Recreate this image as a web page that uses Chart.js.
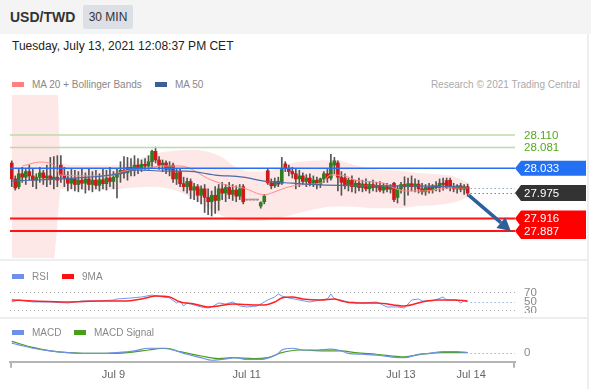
<!DOCTYPE html>
<html>
<head>
<meta charset="utf-8">
<script src="https://cdn.jsdelivr.net/npm/chart.js@4.4.0/dist/chart.umd.min.js"></script>
<style>
  body { margin: 0; width: 591px; height: 389px; background: #fff; position: relative; overflow: hidden;
         font-family: "Liberation Sans", Arial, sans-serif; }
  .abs { position: absolute; }
  #hdr { left: 0; top: 0; width: 591px; height: 34px; background: #f4f4f4; }
  #pair { left: 10px; top: 9px; font-size: 14px; font-weight: bold; color: #333; }
  #tf { left: 83px; top: 5px; width: 50px; height: 24px; line-height: 24px; text-align: center;
        font-size: 12px; color: #333; background: #dcdfe5; border-radius: 2px; }
  #date { left: 12px; top: 39px; font-size: 12px; color: #222; }
  .leg { font-size: 10px; color: #888; white-space: nowrap; z-index: 2; }
  .sw { display: inline-block; width: 12px; height: 5px; vertical-align: middle; margin-right: 8px; position: relative; top: -1px; }
  .sep { left: 0; width: 588px; height: 2px; background: #eceef0; }
  #rb { left: 587px; top: 34px; width: 2px; height: 355px; background: #eceef0; }
  canvas { position: absolute; left: 0; }
</style>
</head>
<body>
<div id="hdr" class="abs"></div>
<div id="pair" class="abs">USD/TWD</div>
<div id="tf" class="abs">30 MIN</div>
<div id="date" class="abs">Tuesday, July 13, 2021 12:08:37 PM CET</div>

<div class="abs leg" style="left:12px;top:79px"><span class="sw" style="background:#ff8080"></span>MA 20 + Bollinger Bands</div>
<div class="abs leg" style="left:155px;top:79px"><span class="sw" style="background:#3c5f9a"></span>MA 50</div>
<div class="abs leg" style="right:11px;top:79px;color:#aaa">Research © 2021 Trading Central</div>

<div class="abs sep" style="top:259px"></div>
<div class="abs sep" style="top:317px"></div>
<div id="rb" class="abs"></div>

<div class="abs leg" style="left:12px;top:271px"><span class="sw" style="background:#6f8fe8"></span>RSI</div>
<div class="abs leg" style="left:62px;top:271px"><span class="sw" style="background:#ff1010"></span>9MA</div>
<div class="abs leg" style="left:12px;top:327px"><span class="sw" style="background:#6f8fe8"></span>MACD</div>
<div class="abs leg" style="left:74px;top:327px"><span class="sw" style="background:#4a9e1a"></span>MACD Signal</div>

<canvas id="main" width="588" height="163" style="top:95px"></canvas>
<canvas id="rsi" width="588" height="51" style="top:262px"></canvas>
<canvas id="macd" width="588" height="69" style="top:320px"></canvas>

<script>
// time axis: one slot per 30 min bar, empty slots after the last bar
var xMin = -0.5, xMax = 143.5;
var tickIdx = [29, 67, 111, 131];
var tickText = ['Jul 9', 'Jul 11', 'Jul 13', 'Jul 14'];

// candles
var open = [
  28.045, 28.008, 27.990, 28.020, 28.012, 28.025, 28.015, 28.005, 28.012, 28.022,
  28.010, 28.015, 28.008, 28.012, 28.040, 28.017, 28.010, 27.998, 28.008, 27.995,
  28.005, 27.998, 28.008, 27.995, 28.005, 27.993, 28.006, 27.997, 28.010, 28.002,
  28.012, 28.020, 28.028, 28.022, 28.035, 28.028, 28.040, 28.033, 28.042, 28.038,
  28.048, 28.072, 28.052, 28.040, 28.045, 28.030, 28.040, 28.008, 28.025, 27.997,
  27.990, 28.002, 27.982, 27.990, 27.970, 27.985, 27.965, 27.955, 27.970, 27.958,
  27.985, 27.975, 27.988, 27.972, 27.982, 27.968, 27.990, 27.959, 27.959, 27.959,
  27.959, 27.945, 27.955, 28.027, 27.999, 27.992, 28.002, 27.998, 28.043, 28.033,
  28.025, 28.020, 28.008, 28.015, 28.002, 28.010, 27.998, 28.005, 27.995, 28.008,
  28.020, 28.010, 28.040, 28.045, 28.012, 28.010, 27.995, 28.005, 27.990, 27.998,
  27.988, 27.996, 27.985, 27.995, 27.988, 27.992, 27.982, 27.990, 27.984, 27.998,
  27.965, 27.985, 27.995, 27.990, 27.997, 27.990, 27.996, 27.985, 27.978, 27.988,
  27.982, 27.992, 27.988, 27.998, 28.004, 28.005, 27.990, 27.985, 27.992, 27.984, 27.990
];
var high = [
  28.050, 28.015, 28.030, 28.035, 28.030, 28.040, 28.032, 28.020, 28.035, 28.028,
  28.040, 28.058, 28.060, 28.062, 28.062, 28.035, 28.025, 28.030, 28.028, 28.025,
  28.030, 28.022, 28.030, 28.025, 28.028, 28.020, 28.032, 28.028, 28.035, 28.025,
  28.030, 28.048, 28.060, 28.058, 28.055, 28.062, 28.055, 28.052, 28.055, 28.062,
  28.075, 28.082, 28.060, 28.052, 28.050, 28.048, 28.045, 28.030, 28.030, 28.012,
  28.010, 28.008, 27.998, 27.995, 27.992, 27.995, 27.985, 27.980, 27.990, 27.995,
  28.000, 27.995, 28.000, 27.995, 27.992, 27.995, 27.995, 27.959, 27.959, 27.959,
  27.959, 27.955, 27.972, 28.031, 28.008, 28.010, 28.012, 28.058, 28.048, 28.040,
  28.035, 28.030, 28.028, 28.022, 28.018, 28.020, 28.015, 28.012, 28.010, 28.025,
  28.030, 28.065, 28.058, 28.050, 28.025, 28.020, 28.010, 28.015, 28.005, 28.010,
  28.005, 28.008, 28.002, 28.005, 28.000, 28.002, 27.998, 27.998, 27.995, 28.000,
  27.992, 28.000, 28.013, 28.010, 28.015, 28.008, 28.005, 27.998, 27.995, 27.998,
  27.995, 28.002, 28.008, 28.010, 28.010, 28.010, 27.998, 27.995, 27.998, 27.995, 27.996
];
var low = [
  27.990, 27.982, 27.985, 28.000, 27.995, 28.005, 27.990, 27.985, 28.000, 27.995,
  27.990, 27.995, 27.985, 27.990, 28.000, 27.990, 27.980, 27.985, 27.980, 27.978,
  27.985, 27.975, 27.982, 27.978, 27.985, 27.980, 27.985, 27.982, 27.990, 27.985,
  27.964, 28.000, 28.010, 28.005, 28.015, 28.015, 28.020, 28.025, 28.030, 28.030,
  28.035, 28.045, 28.030, 28.025, 28.020, 28.015, 28.000, 27.995, 27.990, 27.980,
  27.975, 27.962, 27.960, 27.955, 27.950, 27.930, 27.925, 27.922, 27.928, 27.935,
  27.960, 27.955, 27.962, 27.958, 27.955, 27.960, 27.950, 27.959, 27.959, 27.959,
  27.959, 27.940, 27.950, 27.995, 27.985, 27.988, 27.990, 27.995, 28.025, 28.015,
  28.010, 27.985, 27.990, 27.995, 27.990, 27.992, 27.990, 27.985, 27.988, 28.000,
  28.000, 28.005, 28.020, 27.980, 27.970, 27.985, 27.980, 27.978, 27.975, 27.980,
  27.978, 27.980, 27.975, 27.980, 27.978, 27.978, 27.975, 27.978, 27.975, 27.955,
  27.952, 27.975, 27.947, 27.970, 27.980, 27.978, 27.975, 27.972, 27.970, 27.975,
  27.975, 27.980, 27.978, 27.982, 27.985, 27.980, 27.978, 27.975, 27.978, 27.972, 27.968
];
var close = [
  28.008, 27.987, 28.020, 28.012, 28.025, 28.015, 28.005, 28.012, 28.022, 28.010,
  28.015, 28.008, 28.012, 28.005, 28.017, 28.010, 27.998, 28.008, 27.995, 28.005,
  27.998, 28.008, 27.995, 28.005, 27.993, 28.006, 27.997, 28.010, 28.002, 28.012,
  28.020, 28.028, 28.022, 28.035, 28.028, 28.040, 28.033, 28.042, 28.038, 28.048,
  28.072, 28.052, 28.040, 28.045, 28.030, 28.038, 28.008, 28.022, 27.997, 27.990,
  28.002, 27.982, 27.990, 27.970, 27.985, 27.965, 27.955, 27.970, 27.958, 27.985,
  27.975, 27.988, 27.972, 27.982, 27.968, 27.985, 27.955, 27.959, 27.959, 27.959,
  27.959, 27.953, 27.968, 27.999, 27.992, 28.002, 27.996, 28.030, 28.033, 28.025,
  28.020, 28.008, 28.015, 28.002, 28.010, 27.998, 28.005, 27.995, 28.008, 28.020,
  28.010, 28.045, 28.050, 28.012, 28.000, 27.992, 28.005, 27.990, 27.998, 27.988,
  27.996, 27.985, 27.995, 27.988, 27.992, 27.982, 27.990, 27.984, 27.990, 27.960,
  27.985, 27.995, 27.990, 27.997, 27.990, 27.996, 27.985, 27.978, 27.988, 27.982,
  27.992, 27.988, 27.998, 27.995, 27.988, 27.990, 27.985, 27.992, 27.984, 27.990, 27.975
];

// indicators as [bar index, value]
var ma20 = [[3,28.038],[8,28.047],[12,28.040],[14,28.017],[22,28.015],[28,28.015],[32,28.026],[37,28.031],
  [43,28.038],[48,28.038],[57,28.005],[62,27.992],[66,27.987],[72,27.971],[74,27.975],[78,27.987],[82,27.994],
  [88,27.998],[91,28.017],[95,28.015],[98,28.005],[106,27.998],[109,27.987],[112,27.980],[118,27.980],[124,27.987],[130,27.987]];
var ma50 = [[0,28.003],[22,28.012],[32,28.022],[35,28.029],[44,28.026],[50,28.026],[58,28.017],[66,28.012],
  [72,28.003],[80,27.998],[88,27.994],[110,27.992],[128,27.989],[130,27.987]];
var bandUpper = [[0,28.26],[8,28.26],[12,28.26],[13,28.22],[14,28.045],[20,28.040],[25,28.040],[30,28.040],[35,28.050],
  [40,28.065],[45,28.072],[50,28.076],[55,28.073],[60,28.058],[64,28.035],[68,28.025],[74,28.028],[80,28.045],
  [86,28.050],[92,28.052],[98,28.040],[104,28.030],[110,28.027],[116,28.022],[122,28.018],[126,28.014],[130,28.000]];
var bandLower = [[0,27.78],[8,27.78],[12,27.82],[13,27.90],[14,27.985],[20,27.982],[25,27.982],[30,27.984],[35,27.988],
  [40,27.990],[45,27.985],[50,27.970],[55,27.945],[60,27.922],[64,27.912],[68,27.910],[74,27.913],[80,27.925],
  [86,27.937],[92,27.944],[98,27.943],[104,27.940],[110,27.940],[116,27.945],[122,27.948],[126,27.953],[130,27.965]];

var rsi = [[0,47.8],[2,52.2],[6,47.8],[11,47.8],[16,45.6],[20,50],[25,50],[29,52.2],[30,54.4],[34,56.7],[37,58.9],
  [40,63.3],[43,58.9],[45,56.7],[47,45.6],[48,50],[49,38.9],[50,45.6],[52,41.1],[54,36.7],[56,34.4],[57,36.7],
  [59,45.6],[61,43.3],[63,47.8],[65,38.9],[67,36.7],[70,38.9],[72,47.8],[73,52.2],[75,58.9],[76,65.6],[77,61.1],
  [79,56.7],[82,52.2],[85,47.8],[88,52.2],[90,54.4],[91,65.6],[92,54.4],[94,52.2],[96,45.6],[97,47.8],[100,45.6],
  [104,47.8],[107,36.7],[110,36.7],[112,34.4],[114,52.2],[116,54.4],[117,50],[120,50],[123,58.9],[124,52.2],
  [127,52.2],[128,45.6],[129,50],[130,47.8]];
var rsiMa = [[0,52.2],[6,50],[16,47.8],[25,50],[33,50],[37,54.4],[41,61.1],[45,58.9],[48,47.8],[52,43.3],[56,36.7],
  [59,38.9],[63,43.3],[69,41.1],[72,41.1],[75,47.8],[77,56.7],[80,58.9],[83,54.4],[88,52.2],[92,54.4],[94,50],
  [98,45.6],[104,45.6],[112,38.9],[117,47.8],[121,52.2],[126,52.2],[130,50]];
var rsiGuides = [70, 50, 30];

var macd = [[0,0.0055],[2,0.0045],[6,0.0025],[11,0.0010],[16,0],[20,-0.0005],[25,-0.0005],[30,0],[35,0.0010],
  [39,0.0025],[43,0.0025],[46,0.0015],[50,-0.0010],[54,-0.0030],[57,-0.0045],[60,-0.0040],[64,-0.0030],[67,-0.0040],
  [71,-0.0040],[74,-0.0025],[76,-0.0005],[77,0.0015],[80,0.0025],[83,0.0015],[87,0.0015],[91,0.0020],[94,0.0010],
  [96,-0.0005],[100,-0.0010],[104,-0.0015],[108,-0.0025],[112,-0.0030],[116,-0.0010],[119,-0.0005],[123,0.0005],
  [127,0.0005],[130,0]];
var macdSignal = [[0,0.0065],[6,0.0030],[11,0.0010],[16,0],[25,-0.0005],[33,0],[39,0.0015],[44,0.0025],[48,0.0005],
  [54,-0.0020],[59,-0.0035],[63,-0.0030],[69,-0.0035],[73,-0.0030],[77,0],[82,0.0015],[89,0.0010],[94,0.0010],
  [98,0],[104,-0.0010],[112,-0.0025],[117,-0.0010],[123,0],[130,0]];

// key levels
var resistances = [28.110, 28.081];
var pivot = 28.033;
var supports = [27.916, 27.887];

function pts(arr) { return arr.map(function (p) { return { x: p[0], y: p[1] }; }); }
var lastI = close.length - 1;
var labelFont = '11.5px "Liberation Sans", Arial, sans-serif';

var xHidden = { type: 'linear', min: xMin, max: xMax, offset: false, display: false };
var pad = { left: 10, right: 73, top: 0, bottom: 0 };
var common = {
  responsive: false, animation: false, events: [],
  layout: { padding: pad },
  plugins: { legend: { display: false }, tooltip: { enabled: false } }
};
function opts(extra) { return Object.assign({}, common, extra); }

function tag(ctx, x0, yc, h, color) {
  ctx.fillStyle = color;
  ctx.beginPath();
  ctx.moveTo(x0, yc);
  ctx.lineTo(x0 + 6, yc - h / 2);
  ctx.lineTo(x0 + 71, yc - h / 2);
  ctx.lineTo(x0 + 71, yc + h / 2);
  ctx.lineTo(x0 + 6, yc + h / 2);
  ctx.closePath();
  ctx.fill();
}
function dotted(ctx, x0, x1, py, color) {
  ctx.strokeStyle = color; ctx.lineWidth = 1; ctx.setLineDash([1, 3]);
  ctx.beginPath(); ctx.moveTo(x0, py); ctx.lineTo(x1, py); ctx.stroke();
  ctx.setLineDash([]);
}

var levelPlugin = {
  id: 'levels',
  afterDatasetsDraw: function (chart) {
    var ctx = chart.ctx, a = chart.chartArea, xs = chart.scales.x, ys = chart.scales.y;
    ctx.save();
    function hline(v, color, w) {
      var py = ys.getPixelForValue(v);
      ctx.strokeStyle = color; ctx.lineWidth = w;
      ctx.beginPath(); ctx.moveTo(a.left, py); ctx.lineTo(a.right, py); ctx.stroke();
    }
    resistances.forEach(function (v) { hline(v, '#bcdca6', 1.5); });
    hline(pivot, '#2a6ef2', 1.5);
    supports.forEach(function (v) { hline(v, '#ff1414', 2); });

    var xl = xs.getPixelForValue(lastI) + 3;
    dotted(ctx, xl, a.right, Math.round(ys.getPixelForValue(ma50[ma50.length - 1][1])) + 0.5, '#5a78b0');
    dotted(ctx, xl, a.right, Math.round(ys.getPixelForValue(close[lastI])) + 0.5, '#444');

    // forecast arrow
    var x0 = xs.getPixelForValue(lastI) + 1, y0 = ys.getPixelForValue(close[lastI]) + 2;
    var x1 = xs.getPixelForValue(xMax - 1.2), y1 = ys.getPixelForValue(supports[1]);
    var ang = Math.atan2(y1 - y0, x1 - x0), hl = 13, hw = 7;
    var bx = x1 - hl * Math.cos(ang), by = y1 - hl * Math.sin(ang);
    ctx.strokeStyle = '#2f5f9b'; ctx.fillStyle = '#2f5f9b'; ctx.lineWidth = 3.5;
    ctx.beginPath(); ctx.moveTo(x0, y0); ctx.lineTo(bx, by); ctx.stroke();
    ctx.beginPath();
    ctx.moveTo(x1, y1);
    ctx.lineTo(bx + hw * Math.sin(ang), by - hw * Math.cos(ang));
    ctx.lineTo(bx - hw * Math.sin(ang), by + hw * Math.cos(ang));
    ctx.closePath(); ctx.fill();

    // labels on the right
    ctx.font = labelFont;
    ctx.textBaseline = 'middle'; ctx.textAlign = 'left';
    var tx = a.right + 9;
    ctx.fillStyle = '#55a81c';
    resistances.forEach(function (v) { ctx.fillText(v.toFixed(3), tx, ys.getPixelForValue(v) + 0.5); });
    tag(ctx, a.right, ys.getPixelForValue(pivot), 15, '#2470f2');
    ctx.fillStyle = '#fff'; ctx.fillText(pivot.toFixed(3), tx, ys.getPixelForValue(pivot) + 0.5);
    tag(ctx, a.right, ys.getPixelForValue(close[lastI]), 16, '#333');
    ctx.fillStyle = '#fff'; ctx.fillText(close[lastI].toFixed(3), tx, ys.getPixelForValue(close[lastI]) + 0.5);
    supports.forEach(function (v) { tag(ctx, a.right, ys.getPixelForValue(v), 16, '#ff0000'); });
    ctx.fillStyle = '#fff';
    supports.forEach(function (v) { ctx.fillText(v.toFixed(3), tx, ys.getPixelForValue(v) + 0.5); });
    ctx.restore();
  }
};

var bodyColor = open.map(function (o, i) {
  return close[i] > o ? '#2e7d1e' : (close[i] < o ? '#d01818' : '#999');
});

new Chart('main', {
  type: 'bar',
  data: {
    datasets: [
      { type: 'line', data: pts(bandUpper), borderWidth: 0, pointRadius: 0, fill: false,
        cubicInterpolationMode: 'monotone', order: 6 },
      { type: 'line', data: pts(bandLower), borderWidth: 0, pointRadius: 0, fill: '-1',
        backgroundColor: 'rgba(250,110,110,0.17)', cubicInterpolationMode: 'monotone', order: 5 },
      { data: open.map(function (o, i) { return { x: i, y: [low[i], high[i]] }; }),
        backgroundColor: '#555', barThickness: 1, grouped: false, order: 4 },
      { data: open.map(function (o, i) { return { x: i, y: [o, close[i]] }; }),
        backgroundColor: bodyColor, barThickness: 3, grouped: false, minBarLength: 1, order: 3 },
      { type: 'line', data: pts(ma20), borderColor: '#ff8a8a', borderWidth: 1, pointRadius: 0,
        cubicInterpolationMode: 'monotone', order: 2 },
      { type: 'line', data: pts(ma50), borderColor: '#4a6aa8', borderWidth: 1.2, pointRadius: 0,
        cubicInterpolationMode: 'monotone', order: 1 }
    ]
  },
  options: opts({
    scales: { x: xHidden, y: { min: 27.8243, max: 28.2029, display: false } }
  }),
  plugins: [levelPlugin]
});

var rsiPlugin = {
  id: 'rsiGuides',
  beforeDatasetsDraw: function (chart) {
    var ctx = chart.ctx, a = chart.chartArea, ys = chart.scales.y;
    ctx.save();
    [rsiGuides[0], rsiGuides[2]].forEach(function (v) {
      dotted(ctx, a.left, a.right, Math.round(ys.getPixelForValue(v)) + 0.5, '#aaa');
    });
    ctx.restore();
  },
  afterDatasetsDraw: function (chart) {
    var ctx = chart.ctx, a = chart.chartArea, xs = chart.scales.x, ys = chart.scales.y;
    ctx.save();
    var last = rsi[rsi.length - 1];
    dotted(ctx, xs.getPixelForValue(last[0]) + 3, a.right, Math.round(ys.getPixelForValue(last[1])) + 0.5, '#6f8fe8');
    ctx.font = labelFont;
    ctx.textBaseline = 'middle'; ctx.fillStyle = '#888';
    rsiGuides.forEach(function (v) { ctx.fillText(String(v), a.right + 9, ys.getPixelForValue(v) + 1); });
    ctx.restore();
  }
};

new Chart('rsi', {
  type: 'line',
  data: {
    datasets: [
      { data: pts(rsiMa), borderColor: '#ff2020', borderWidth: 1.5, pointRadius: 0,
        cubicInterpolationMode: 'monotone', order: 1 },
      { data: pts(rsi), borderColor: '#7396ee', borderWidth: 1, pointRadius: 0, tension: 0, order: 2 }
    ]
  },
  options: opts({
    scales: { x: xHidden, y: { min: 23.3, max: 136.7, display: false } }
  }),
  plugins: [rsiPlugin]
});

var macdPlugin = {
  id: 'macdExtras',
  afterDatasetsDraw: function (chart) {
    var ctx = chart.ctx, a = chart.chartArea, xs = chart.scales.x, ys = chart.scales.y;
    ctx.save();
    var last = macd[macd.length - 1];
    dotted(ctx, xs.getPixelForValue(last[0]) + 3, a.right, Math.round(ys.getPixelForValue(last[1])) + 0.5, '#6f8fe8');
    ctx.font = labelFont;
    ctx.textBaseline = 'middle'; ctx.fillStyle = '#888';
    ctx.fillText('0', a.right + 9, ys.getPixelForValue(0));
    ctx.strokeStyle = '#b5b5b5'; ctx.lineWidth = 2;
    [a.left + 1, a.right - 1].forEach(function (px) {
      ctx.beginPath(); ctx.moveTo(px, a.bottom); ctx.lineTo(px, a.bottom + 6); ctx.stroke();
    });
    ctx.restore();
  }
};

new Chart('macd', {
  type: 'line',
  data: {
    datasets: [
      { data: pts(macd), borderColor: '#6f8fe8', borderWidth: 1.2, pointRadius: 0,
        cubicInterpolationMode: 'monotone', order: 1 },
      { data: pts(macdSignal), borderColor: '#4a9e1a', borderWidth: 1.2, pointRadius: 0,
        cubicInterpolationMode: 'monotone', order: 2 }
    ]
  },
  options: opts({
    scales: {
      x: {
        type: 'linear', min: xMin, max: xMax, offset: false,
        grid: { display: true, drawOnChartArea: false, drawTicks: false, color: 'rgba(0,0,0,0)' },
        border: { display: true, color: '#b5b5b5', width: 2 },
        afterBuildTicks: function (axis) { axis.ticks = tickIdx.map(function (v) { return { value: v }; }); },
        ticks: {
          autoSkip: false, maxRotation: 0, padding: 7, color: '#666',
          font: { size: 11, family: '"Liberation Sans", Arial, sans-serif' },
          callback: function (v) { var k = tickIdx.indexOf(v); return k < 0 ? '' : tickText[k]; }
        }
      },
      y: { min: -0.0054, max: 0.019, display: false }
    }
  }),
  plugins: [macdPlugin]
});
</script>
</body>
</html>
